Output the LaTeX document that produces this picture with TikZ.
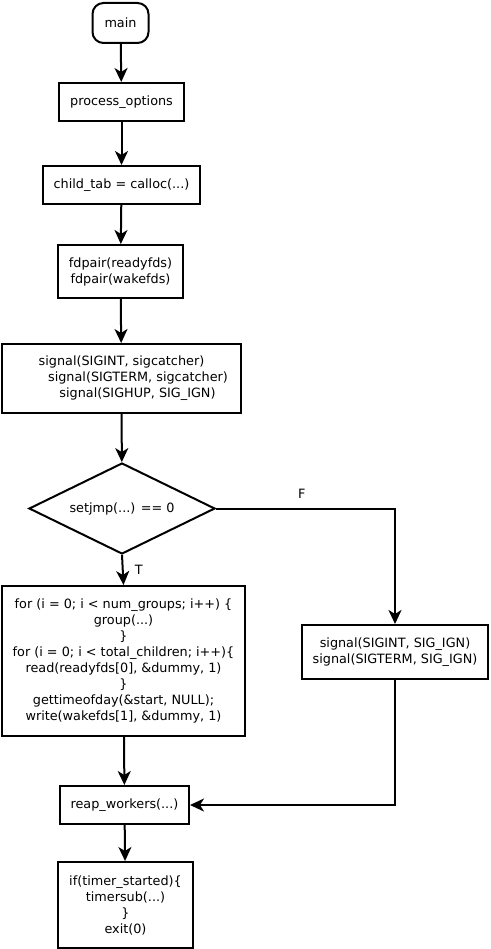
\documentclass[tikz,border=0pt]{standalone}
\usepackage{fontspec}
\setmainfont{DejaVu Sans}
\usetikzlibrary{shapes.geometric,arrows.meta}
\begin{document}
\begin{tikzpicture}[x=1pt, y=-1pt, line width=2pt,
		font=\fontsize{12.8}{16}\selectfont,
		every node/.style={inner sep=0pt, align=center},
		box/.style={draw},
		arr/.style={-{Stealth[length=14pt,width=13pt,inset=4pt]}}]
		\useasboundingbox (0,0) rectangle (490,949);
		% main column
		\node[box, rounded corners=11pt, minimum width=56pt, minimum height=40pt] (main) at (120.5,23) {main};
		\node[box, minimum width=125pt, minimum height=38pt] (opts) at (121.5,102) {process\_options};
		\node[box, minimum width=157pt, minimum height=38pt] (tab) at (121.5,185) {child\_tab = calloc(...)};
		\node[box, minimum width=125pt, minimum height=53pt] (fds) at (120.5,271.5) {fdpair(readyfds)\\fdpair(wakefds)};
		\node[box, minimum width=239pt, minimum height=69pt] (sig) at (121.5,378.5) {signal(SIGINT, sigcatcher)\\\hspace*{33pt}signal(SIGTERM, sigcatcher)\\\hspace*{32pt}signal(SIGHUP, SIG\_IGN)};
		\node[box, diamond, aspect=2.04, minimum width=186pt, minimum height=91pt] (jmp) at (122,508.5) {setjmp(...) == 0};
		\node[box, minimum width=243pt, minimum height=150pt] (loop) at (123.5,661) {for (i = 0; i < num\_groups; i++) \{\\group(...)\\\}\\for (i = 0; i < total\_children; i++)\{\\read(readyfds[0], \&dummy, 1)\\\}\\gettimeofday(\&start, NULL);\\write(wakefds[1], \&dummy, 1)};
		\node[box, minimum width=129pt, minimum height=38pt] (reap) at (124.5,805) {reap\_workers(...)};
		\node[box, minimum width=135pt, minimum height=86pt] (fin) at (125.5,905) {if(timer\_started)\{\\timersub(...)\\\}\\exit(0)};
		% false branch
		\node[box, minimum width=186pt, minimum height=54pt] (ign) at (395,652) {signal(SIGINT, SIG\_IGN)\\signal(SIGTERM, SIG\_IGN)};
		% connectors
		\draw[arr] (main) -- (opts);
		\draw[arr] (opts) -- (tab);
		\draw[arr] (tab) -- (fds);
		\draw[arr] (fds) -- (sig);
		\draw[arr] (sig) -- (jmp);
		\draw[arr] (jmp.south) -- (loop.north) node[midway, right=11pt] {T};
		\draw[arr] (jmp.east) -| (ign.north) node[pos=0.24, above=9pt] {F};
		\draw[arr] (loop) -- (reap);
		\draw[arr] (ign.south) |- (reap.east);
		\draw[arr] (reap) -- (fin);
	\end{tikzpicture}
\end{document}
